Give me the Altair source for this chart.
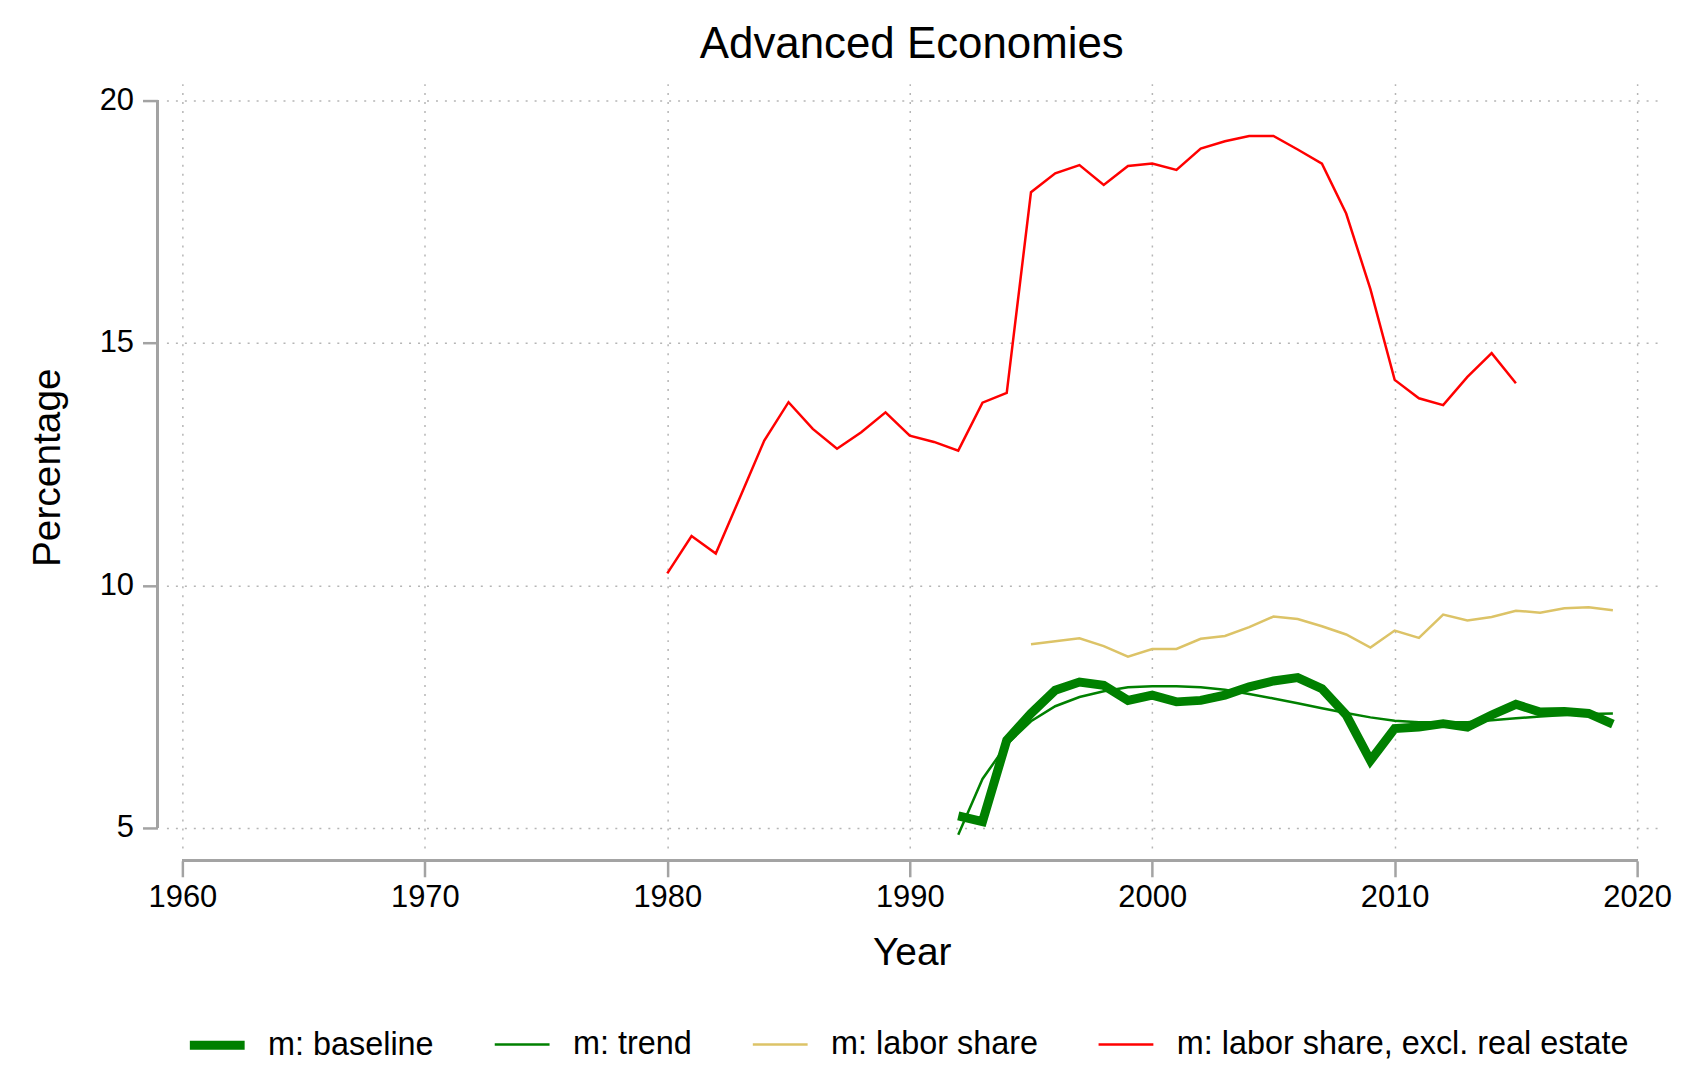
import altair as alt
import pandas as pd

FONT = "Liberation Sans"

series_names = ["m: baseline", "m: trend", "m: labor share", "m: labor share, excl. real estate"]
series_colors = ["#008000", "#008000", "#dcc367", "#ff0000"]
series_widths = [9, 2.5, 2.5, 2.5]

years_baseline = list(range(1992, 2020))
baseline = [5.25, 5.13, 6.81, 7.36, 7.84, 8.01, 7.94, 7.63,
            7.74, 7.60, 7.63, 7.74, 7.91, 8.03, 8.10, 7.87, 7.33, 6.39,
            7.05, 7.08, 7.15, 7.08, 7.33, 7.55, 7.39, 7.40, 7.36, 7.14]

years_trend = list(range(1992, 2020))
trend = [4.86, 6.01, 6.72, 7.20, 7.51, 7.70, 7.82, 7.90,
         7.92, 7.92, 7.90, 7.85, 7.76, 7.67, 7.57, 7.47, 7.37, 7.28,
         7.21, 7.18, 7.18, 7.18, 7.22, 7.26, 7.30, 7.33, 7.35, 7.36]

years_labor = list(range(1995, 2020))
labor = [8.79, 8.85, 8.91, 8.75, 8.53,
         8.69, 8.69, 8.90, 8.96, 9.14, 9.36, 9.31, 9.16, 8.99, 8.72,
         9.07, 8.92, 9.40, 9.28, 9.35, 9.48, 9.44, 9.53, 9.55, 9.49]

years_excl = list(range(1980, 2016))
excl = [10.25, 11.02, 10.66, 11.82, 12.99, 13.78, 13.23, 12.82, 13.16, 13.57,
        13.09, 12.96, 12.78, 13.77, 13.97, 18.11, 18.50, 18.67, 18.26, 18.65,
        18.70, 18.57, 19.01, 19.16, 19.27, 19.27, 18.99, 18.70, 17.67, 16.11,
        14.24, 13.86, 13.72, 14.30, 14.79, 14.17]

x_ticks = [1960, 1970, 1980, 1990, 2000, 2010, 2020]
y_ticks = [5, 10, 15, 20]
x_axis_span = [1960, 2020]
y_axis_span = [5, 20]

rows = []
for name, yrs, vals in [
    (series_names[0], years_baseline, baseline),
    (series_names[1], years_trend, trend),
    (series_names[2], years_labor, labor),
    (series_names[3], years_excl, excl),
]:
    for yr, v in zip(yrs, vals):
        rows.append({"year": yr, "value": v, "series": name})
df = pd.DataFrame(rows)

W, H = 1496, 770
AXIS_GRAY = "#a3a3a3"

x_scale = alt.Scale(domain=[1959.342, 2020.822], nice=False, zero=False)
y_scale = alt.Scale(domain=[4.527, 20.349], nice=False, zero=False)

legend = alt.Legend(
    title=None, orient="none", legendX=19, legendY=933, direction="horizontal",
    columns=4, symbolType="stroke", symbolSize=3025, labelFontSize=32.5,
    labelFont=FONT, labelColor="black", labelOffset=19, columnPadding=55,
    padding=0, labelLimit=0,
)

lines = alt.Chart(df).mark_line().encode(
    x=alt.X("year:Q", scale=x_scale,
            axis=alt.Axis(values=x_ticks, title="Year", format="d", offset=10,
                          tickSize=16, labelPadding=6, titlePadding=21)),
    y=alt.Y("value:Q", scale=y_scale,
            axis=alt.Axis(values=y_ticks, title="Percentage", offset=9,
                          tickSize=15, labelPadding=9, titlePadding=32)),
    color=alt.Color("series:N", scale=alt.Scale(domain=series_names, range=series_colors),
                    legend=legend),
    strokeWidth=alt.StrokeWidth("series:N",
                                scale=alt.Scale(type="ordinal", domain=series_names, range=series_widths),
                                legend=legend),
    detail="series:N",
)

y_axis_line = alt.Chart(df).mark_rule(color=AXIS_GRAY, strokeWidth=2.5).encode(
    y=alt.datum(y_axis_span[0]), y2=alt.datum(y_axis_span[1]), x=alt.value(-9)
)
x_axis_line = alt.Chart(df).mark_rule(color=AXIS_GRAY, strokeWidth=2.5).encode(
    x=alt.datum(x_axis_span[0]), x2=alt.datum(x_axis_span[1]), y=alt.value(H + 10)
)

chart = alt.layer(lines, y_axis_line, x_axis_line).properties(
    width=W, height=H,
    title=alt.Title("Advanced Economies", fontSize=44, font=FONT, fontWeight="normal",
                    color="black", anchor="middle", frame="group", offset=17),
    autosize=alt.AutoSizeParams(type="none"),
    padding={"left": 159, "top": 74, "right": 16, "bottom": 214},
).configure_view(stroke=None).configure_axis(
    domain=False, grid=True, gridColor="#b5b5b5", gridDash=[2, 7], gridWidth=1.5,
    tickColor=AXIS_GRAY, tickWidth=2.5, labelFont=FONT, labelFontSize=31,
    labelColor="black", titleFont=FONT, titleFontSize=39, titleFontWeight="normal",
    titleColor="black",
)

chart.save("out.html", embed_options={"renderer": "svg", "actions": False})
